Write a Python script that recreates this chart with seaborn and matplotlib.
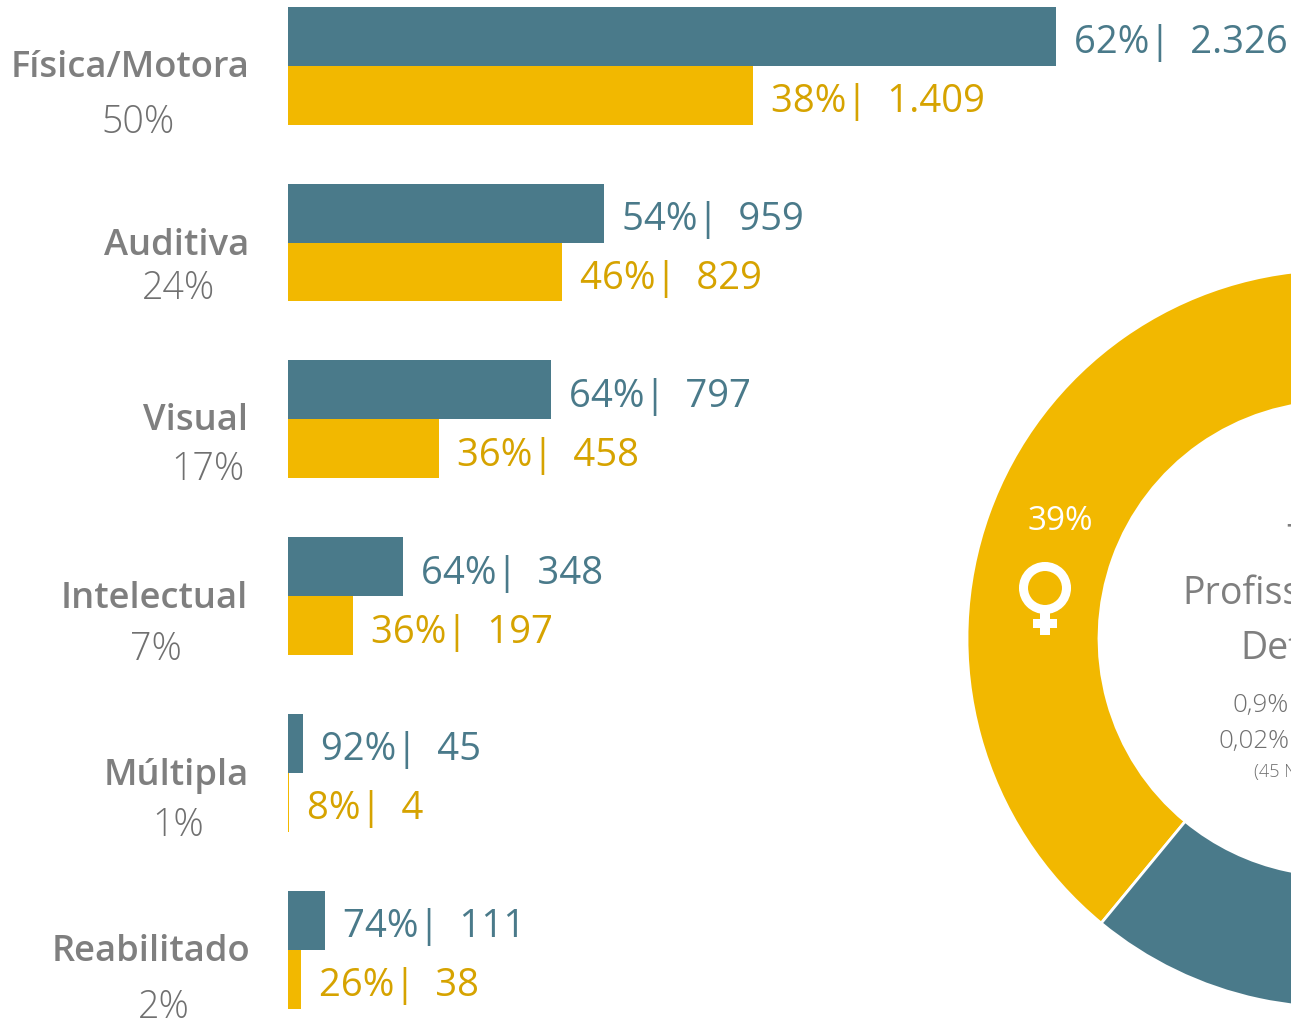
import numpy as np
import pandas as pd
import matplotlib
matplotlib.use('Agg')
import matplotlib.pyplot as plt
from matplotlib.patches import Circle, Rectangle
import seaborn as sns

# dados
categorias = ['Física/Motora', 'Auditiva', 'Visual', 'Intelectual', 'Múltipla', 'Reabilitado']
share_total = ['50%', '24%', '17%', '7%', '1%', '2%']
homens = [2326, 959, 797, 348, 45, 111]
mulheres = [1409, 829, 458, 197, 4, 38]
homens_pct = [62, 54, 64, 64, 92, 74]
mulheres_pct = [38, 46, 36, 36, 8, 26]
homens_txt = ['2.326', '959', '797', '348', '45', '111']
mulheres_txt = ['1.409', '829', '458', '197', '4', '38']
rosca_labels = ['Mulheres', 'Homens']
rosca_valores = [sum(mulheres), sum(homens)]

TEAL = '#4A7A8A'
AMARELO = '#F2B800'
AMARELO_TXT = '#D6A300'
CINZA = '#7F7F7F'

sns.set_theme(style='white')
plt.rcParams['font.family'] = ['Open Sans', 'DejaVu Sans']

W, H = 1291, 1020
fig = plt.figure(figsize=(W / 100, H / 100), dpi=100, facecolor='white')

# ------ barras
df = pd.DataFrame({'cat': categorias * 2,
                   'sexo': ['H'] * 6 + ['M'] * 6,
                   'valor': homens + mulheres})
ax = fig.add_axes([288 / W, 0, (W - 288) / W, 1])
sns.barplot(data=df, x='valor', y='cat', hue='sexo', order=categorias, hue_order=['H', 'M'],
            palette={'H': TEAL, 'M': AMARELO}, width=0.667, gap=0, dodge=True,
            legend=False, saturation=1, linewidth=0, ax=ax)
passo = 176.8
ax.set_ylim((1020 - 66.7) / passo, -66.7 / passo)
ax.set_xlim(0, (W - 288) / 0.33)
ax.axis('off')
ax.patch.set_alpha(0)

for i in range(6):
    ax.annotate(f'{homens_pct[i]}%|  {homens_txt[i]}', (homens[i], i - 0.167), xytext=(18, -6),
                textcoords='offset pixels', color=TEAL, fontsize=27.5, va='center', ha='left')
    ax.annotate(f'{mulheres_pct[i]}%|  {mulheres_txt[i]}', (mulheres[i], i + 0.167), xytext=(18, -6),
                textcoords='offset pixels', color=AMARELO_TXT, fontsize=27.5, va='center', ha='left')

# ------ rosca (corta na borda direita, igual ao original)
cx, cy, r = 1336, 639.5, 369
ax_pie = fig.add_axes([(cx - r) / W, 1 - (cy + r) / H, 2 * r / W, 2 * r / H])
ax_pie.pie(rosca_valores, labels=None, colors=[AMARELO, TEAL], startangle=90, radius=1,
           wedgeprops=dict(width=132 / r, edgecolor='white', linewidth=2))
ax_pie.set_xlim(-1, 1)
ax_pie.set_ylim(-1, 1)

# ------ textos em coordenadas de pixel
over = fig.add_axes([0, 0, 1, 1])
over.set_xlim(0, W)
over.set_ylim(H, 0)
over.axis('off')
over.patch.set_alpha(0)

nome_xy = [(249, 68), (249, 246), (248, 421), (248, 599), (249, 776), (250, 952)]
pct_xy = [(175, 123), (215, 289), (245, 470), (182, 650), (204, 826), (190, 1008)]
for i in range(6):
    over.text(*nome_xy[i], categorias[i], color=CINZA, fontsize=26.2, ha='right', va='center',
              fontweight='semibold')
    over.text(*pct_xy[i], share_total[i], color='#707070', fontsize=27, ha='right', va='center',
              fontweight='light')

over.text(1060, 522, '39%', color='white', fontsize=24, ha='center', va='center')

# simbolo feminino
over.add_patch(Circle((1045, 589), 21.5, fill=False, edgecolor='white', linewidth=6.5))
over.add_patch(Rectangle((1040, 612), 10, 24, color='white', lw=0))
over.add_patch(Rectangle((1033, 620), 24, 9, color='white', lw=0))

# textos centrais, cortados na borda
over.text(1285, 542, '7.521', color=CINZA, fontsize=27, ha='left', va='center', clip_on=True)
over.text(1182, 594, 'Profissionais', color=CINZA, fontsize=27, ha='left', va='center', clip_on=True)
over.text(1240, 649, 'Deficiência', color=CINZA, fontsize=27, ha='left', va='center', clip_on=True)
over.text(1233, 706, '0,9%', color='#707070', fontsize=18.7, ha='left', va='center', fontweight='light', clip_on=True)
over.text(1218, 742, '0,02%', color='#707070', fontsize=18.7, ha='left', va='center', fontweight='light', clip_on=True)
over.text(1254, 772, '(45 N', color='#707070', fontsize=13, ha='left', va='center', fontweight='light', clip_on=True)

fig.savefig('out.png', dpi=100, facecolor='white')
